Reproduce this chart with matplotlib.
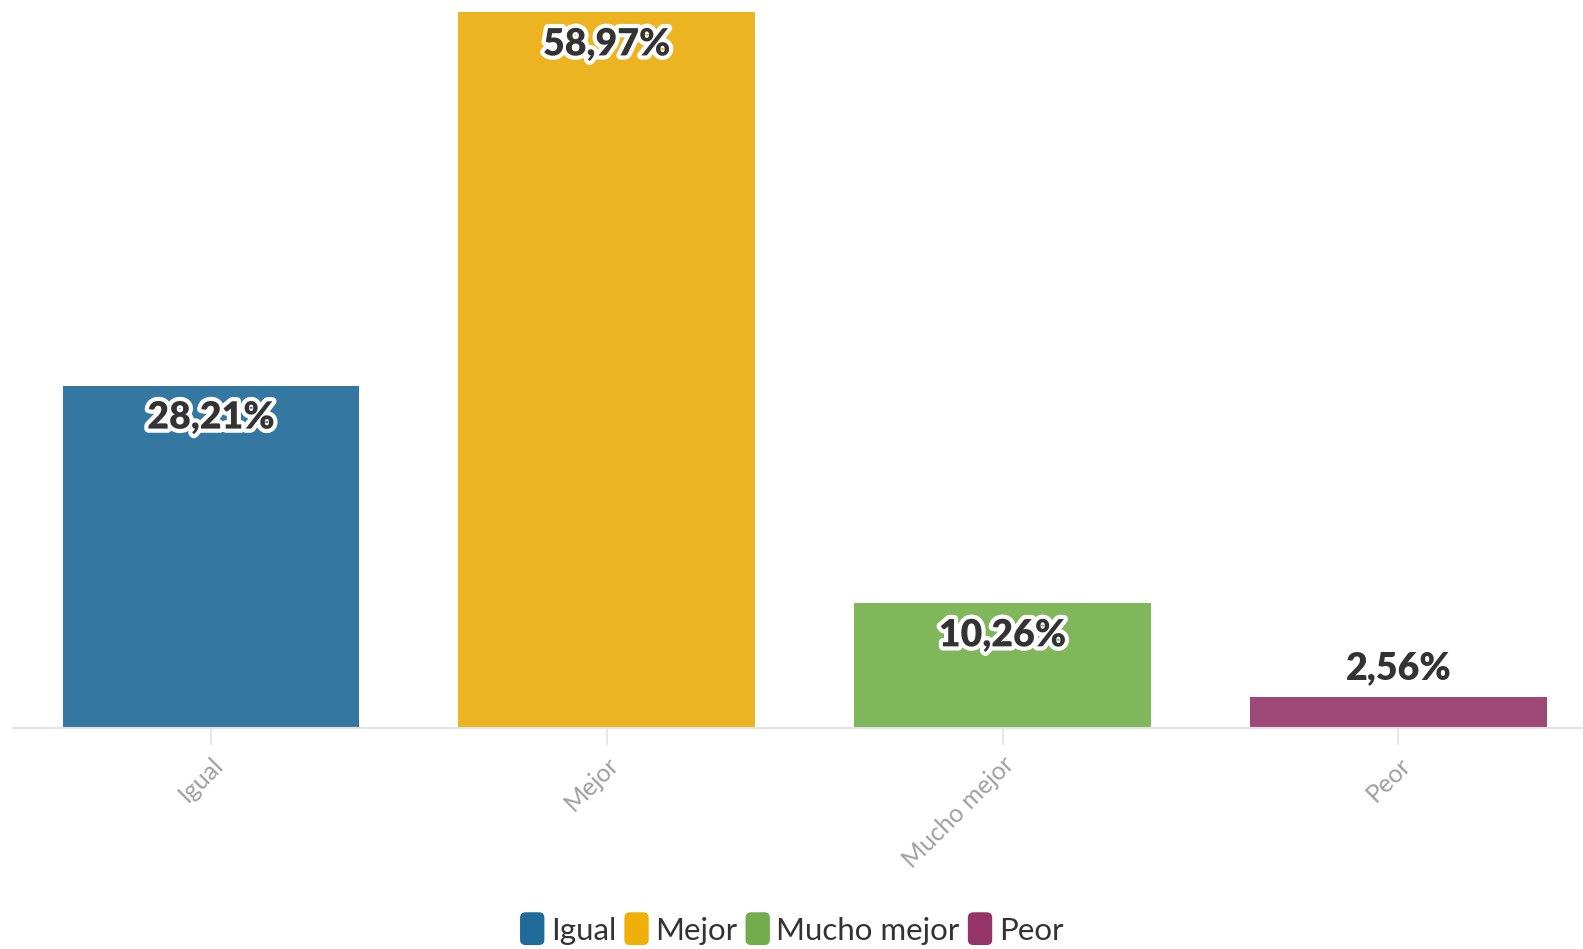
import matplotlib
matplotlib.use('Agg')
from matplotlib import pyplot as plt
from matplotlib import patheffects as pe
from matplotlib.patches import FancyBboxPatch, Patch
from matplotlib.legend_handler import HandlerPatch

categories = ['Igual', 'Mejor', 'Mucho mejor', 'Peor']
values = [28.21, 58.97, 10.26, 2.56]
labels = ['28,21%', '58,97%', '10,26%', '2,56%']
bar_colors = ['#3478a1', '#edb421', '#80b75b', '#9e4878']
legend_colors = ['#1f6b99', '#f0b00a', '#72ac4d', '#953468']

plt.rcParams['font.family'] = ['Lato', 'DejaVu Sans']

fig = plt.figure(figsize=(15.83, 9.49), dpi=100)
ax = fig.add_axes([0.0083, 0.233, 1.0, 0.767])

x = range(len(categories))
ax.bar(x, values, width=0.75, color=bar_colors)

for i, v in enumerate(values):
    if v > 5:
        ax.annotate(labels[i], (i, v), xytext=(0, -23), textcoords='offset points',
                    ha='center', va='center', fontsize=27, fontweight='heavy', color='#333333',
                    path_effects=[pe.withStroke(linewidth=6, foreground='white')])
    else:
        ax.annotate(labels[i], (i, v), xytext=(0, 21), textcoords='offset points',
                    ha='center', va='center', fontsize=27, fontweight='heavy', color='#333333')

ax.set_xlim(-0.5, 3.5)
ax.set_ylim(0, 60)
ax.set_yticks([])
ax.set_xticks(list(x))
ax.set_xticklabels(categories, rotation=45, ha='right', rotation_mode='anchor',
                   fontsize=18, color='#a0a0a0')
ax.tick_params(axis='x', length=12, width=1.2, color='#e3e3e3', pad=6)
for s in ['top', 'right', 'left']:
    ax.spines[s].set_visible(False)
ax.spines['bottom'].set_color('#e3e3e3')
ax.spines['bottom'].set_linewidth(1.5)


class RoundHandler(HandlerPatch):
    def create_artists(self, legend, orig_handle, xdescent, ydescent, width, height, fontsize, trans):
        w = fontsize * 0.78
        h = fontsize * 1.05
        p = FancyBboxPatch((-xdescent + (width - w) / 2, -ydescent + (height - h) / 2), w, h,
                           boxstyle='round,pad=0,rounding_size=4',
                           facecolor=orig_handle.get_facecolor(), edgecolor='none',
                           transform=trans)
        return [p]


handles = [Patch(facecolor=c) for c in legend_colors]
fig.legend(handles, categories, loc='lower center', bbox_to_anchor=(0.5, -0.025), ncol=4,
           frameon=False, fontsize=22.5, handler_map={Patch: RoundHandler()},
           handlelength=0.8, handletextpad=0.2, columnspacing=0.25, labelcolor='#333333')

fig.savefig('out.png', dpi=100)
